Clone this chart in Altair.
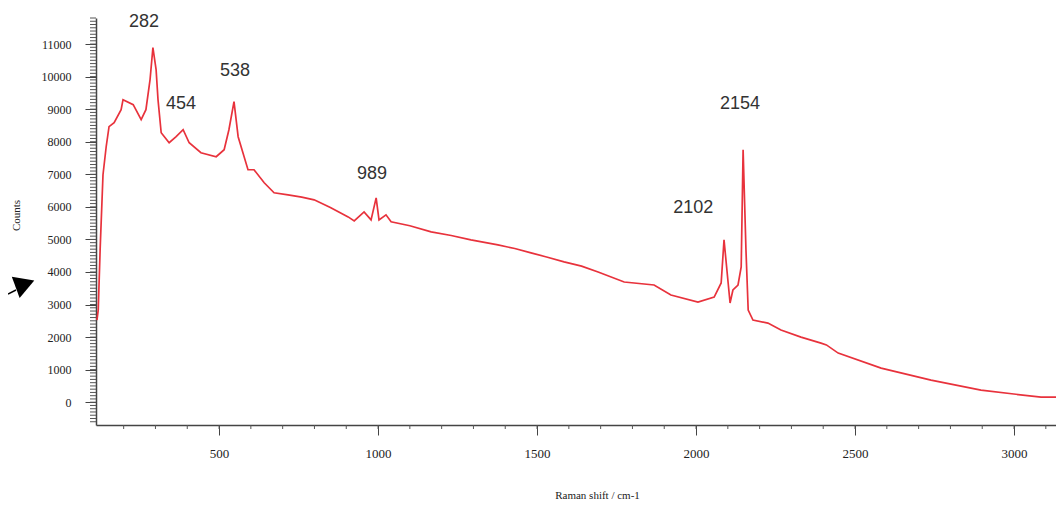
import altair as alt
import pandas as pd

# Raman spectrum
shift = [116, 120, 126, 135, 145, 154, 170, 192, 198, 230, 255, 270, 283, 292, 302, 308,
         318, 343, 365, 387, 406, 443, 491, 516, 531, 547, 560, 591, 610, 642, 673, 717,
         760, 799, 850, 906, 925, 956, 978, 994, 1003, 1025, 1041, 1100, 1167, 1230, 1292,
         1377, 1430, 1481, 1530, 1585, 1640, 1692, 1774, 1868, 1921, 2006, 2057, 2079,
         2088, 2101, 2107, 2116, 2132, 2142, 2148, 2157, 2164, 2179, 2226, 2267, 2330,
         2393, 2410, 2447, 2582, 2739, 2896, 3085, 3160]
counts = [2520, 2830, 4680, 6985, 7846, 8462, 8585, 8985, 9292, 9138, 8677, 8985, 9908,
          10893, 10216, 9292, 8277, 7969, 8154, 8369, 7969, 7662, 7539, 7754, 8369, 9231,
          8154, 7139, 7139, 6739, 6431, 6369, 6300, 6216, 5980, 5692, 5569, 5846, 5600,
          6277, 5600, 5754, 5539, 5420, 5231, 5120, 4985, 4831, 4720, 4585, 4460, 4308,
          4180, 4000, 3692, 3600, 3292, 3077, 3231, 3662, 4985, 3662, 3046, 3446, 3600,
          4154, 7754, 4677, 2831, 2523, 2431, 2215, 2000, 1815, 1760, 1508, 1046, 677, 369,
          154, 154]

peak_labels = ["282", "454", "538", "989", "2102", "2154"]
label_x = [264, 380, 550, 981, 1991, 2138]
label_y = [11692, 9169, 10185, 7015, 5969, 9169]

x_major = [500, 1000, 1500, 2000, 2500, 3000]
x_minor = list(range(200, 3200, 100))
y_major = list(range(0, 12000, 1000))
y_minor = list(range(-600, 11900, 100))

XDOM = [113, 3132]
YDOM = [-700, 11800]
FONT = "Liberation Serif"

spec = pd.DataFrame({"shift": shift, "counts": counts})
labels = pd.DataFrame({"t": peak_labels, "x": label_x, "y": label_y})

xs = alt.Scale(domain=XDOM, nice=False, zero=False)
ys = alt.Scale(domain=YDOM, nice=False, zero=False)

xaxis = alt.Axis(
    values=x_major, format="d", title="Raman shift / cm-1", tickSize=10, labelPadding=12,
    labelFont=FONT, labelFontSize=13, labelColor="#222", titleFont=FONT,
    titleFontSize=11, titleFontWeight="normal", titleColor="#222",
    titleX=501, titleY=70, titleBaseline="middle", domainColor="#444",
    tickColor="#444", grid=False, domainWidth=1.5, labelOverlap=False)
yaxis = alt.Axis(
    values=y_major, format="d", title="Counts", tickSize=11, labelPadding=14,
    labelFont=FONT, labelFontSize=12, labelColor="#222", titleFont=FONT,
    titleFontSize=11, titleFontWeight="normal", titleColor="#222",
    titleX=-80, titleY=197, titleAngle=270, titleBaseline="middle",
    domainColor="#444", tickColor="#444", grid=False, domainWidth=1.5,
    labelOverlap=False)

line = alt.Chart(spec).mark_line(color="#e8323c", strokeWidth=1.7, clip=True).encode(
    x=alt.X("shift:Q", scale=xs, axis=xaxis),
    y=alt.Y("counts:Q", scale=ys, axis=yaxis),
)

minor_x = alt.Chart(pd.DataFrame({"v": x_minor})).mark_rule(color="#555", strokeWidth=1).encode(
    x=alt.X("v:Q", scale=xs, axis=xaxis), y=alt.value(407), y2=alt.value(411))
minor_y = alt.Chart(pd.DataFrame({"v": y_minor})).mark_rule(color="#555", strokeWidth=1).encode(
    y=alt.Y("v:Q", scale=ys, axis=yaxis), x=alt.value(-6), x2=alt.value(0))

text = alt.Chart(labels).mark_text(font="Liberation Sans", fontSize=18, color="#333",
                                   baseline="middle", align="center").encode(
    x=alt.X("x:Q", scale=xs, axis=xaxis), y=alt.Y("y:Q", scale=ys, axis=yaxis), text="t:N")

arrow_head = alt.Chart(pd.DataFrame({"a": [0]})).mark_point(
    shape="triangle-right", filled=True, color="black", size=520, angle=340, opacity=1).encode(
    x=alt.value(-71), y=alt.value(266))
arrow_tail = alt.Chart(pd.DataFrame({"a": [0]})).mark_rule(color="black", strokeWidth=1.5).encode(
    x=alt.value(-88), x2=alt.value(-80), y=alt.value(276), y2=alt.value(272))

chart = alt.layer(line, minor_x, minor_y, text, arrow_head, arrow_tail).properties(
    width=960, height=407, autosize=alt.AutoSizeParams(type="none"),
    padding={"left": 88, "top": 10, "right": 0, "bottom": 80}
).configure_view(stroke=None).configure_axis(grid=False)

chart.save("out.html", embed_options={"renderer": "svg", "actions": False})
